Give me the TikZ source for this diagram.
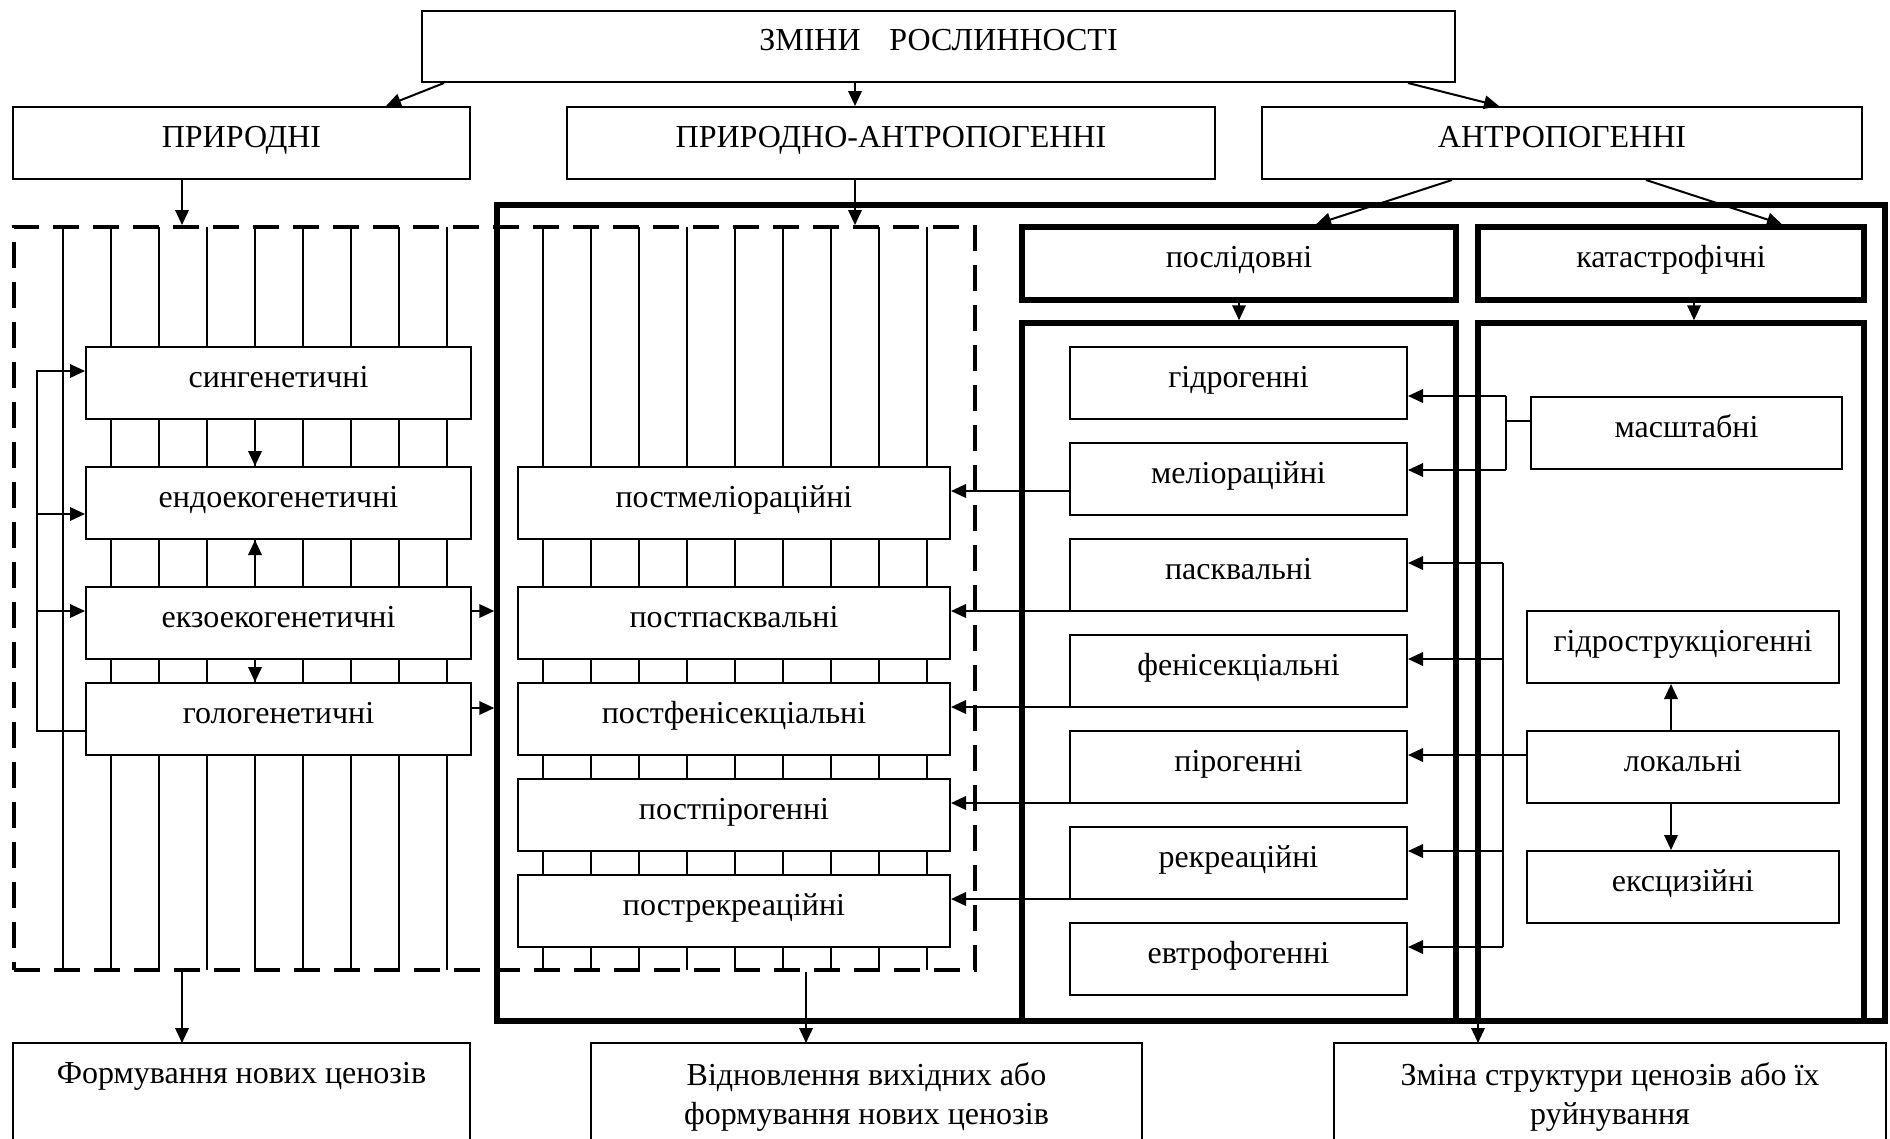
\documentclass[tikz,border=0pt]{standalone}
\usepackage{fontspec}
\setmainfont{Liberation Serif}
\usetikzlibrary{arrows.meta,calc}
\begin{document}
\begin{tikzpicture}[x=1pt,y=-1pt,
  every node/.style={font=\fontsize{32}{39}\selectfont},
  box/.style={draw, line width=2pt, fill=white, inner sep=0pt, text height=22pt, text depth=14pt, align=center},
  tbox/.style={box, line width=5.5pt},
  frame/.style={draw, line width=5.5pt, inner sep=0pt, line join=miter},
  lbox/.style={box, minimum width=385pt, minimum height=72pt},
  qbox/.style={box, minimum width=432pt, minimum height=72pt},
  rbox/.style={box, minimum width=337pt, minimum height=72pt},
  kbox/.style={box, minimum width=312pt, minimum height=72pt},
  openbox/.style={inner sep=0pt, outer sep=0pt, minimum height=100pt, anchor=north},
  txt/.style={inner sep=0pt, anchor=north, align=center},
  arr/.style={line width=2pt, -{Triangle[length=15pt,width=13.5pt]}},
  ln/.style={line width=2pt},
  stripe/.style={line width=1.6pt},
  dashframe/.style={draw, line width=4pt, dash pattern=on 26pt off 14pt, inner sep=0pt},
]
\useasboundingbox (0,0) rectangle (1890,1138);
\fill[white] (0,0) rectangle (1890,1138);

% stripes
\foreach \i in {0,...,8} {
  \draw[stripe] ({63+48*\i},227) -- ({63+48*\i},970);
  \draw[stripe] ({543+48*\i},227) -- ({543+48*\i},970);
}

% frames
\node[dashframe, minimum width=961pt, minimum height=743pt] (D) at (494.5,598.5) {};
\node[frame, minimum width=1388pt, minimum height=816pt] (B) at (1191,613) {};
\node[frame, minimum width=434pt, minimum height=698pt] (S2) at (1239,672) {};
\node[frame, minimum width=386pt, minimum height=698pt] (K2) at (1671,672) {};

% top boxes
\node[box, minimum width=1033pt, minimum height=71pt] (Z) at (938.5,46.5) {ЗМІНИ\hspace{0.9em}РОСЛИННОСТІ};
\node[box, minimum width=457pt, minimum height=72pt] (P) at (241.5,143) {ПРИРОДНІ};
\node[box, minimum width=648pt, minimum height=72pt] (PA) at (891,143) {ПРИРОДНО-АНТРОПОГЕННІ};
\node[box, minimum width=600pt, minimum height=72pt] (A) at (1562,143) {АНТРОПОГЕННІ};
\node[tbox, minimum width=434pt, minimum height=73pt] (S1) at (1239,263.5) {послідовні};
\node[tbox, minimum width=386pt, minimum height=73pt] (K1) at (1671,263.5) {катастрофічні};

% left boxes
\node[lbox] (L1) at (278.5,383) {сингенетичні};
\node[lbox] (L2) at (278.5,503) {ендоекогенетичні};
\node[lbox] (L3) at (278.5,623) {екзоекогенетичні};
\node[lbox] (L4) at (278.5,719) {гологенетичні};

% post boxes
\node[qbox] (Q1) at (734,503) {постмеліораційні};
\node[qbox] (Q2) at (734,623) {постпасквальні};
\node[qbox] (Q3) at (734,719) {постфенісекціальні};
\node[qbox] (Q4) at (734,815) {постпірогенні};
\node[qbox] (Q5) at (734,911) {пострекреаційні};

% successive boxes
\node[rbox] (R1) at (1238.5,383) {гідрогенні};
\node[rbox] (R2) at (1238.5,479) {меліораційні};
\node[rbox] (R3) at (1238.5,575) {пасквальні};
\node[rbox] (R4) at (1238.5,671) {фенісекціальні};
\node[rbox] (R5) at (1238.5,767) {пірогенні};
\node[rbox] (R6) at (1238.5,863) {рекреаційні};
\node[rbox] (R7) at (1238.5,959) {евтрофогенні};

% catastrophic boxes
\node[kbox, minimum width=311pt] (M) at (1686.5,433) {масштабні};
\node[kbox] (G) at (1683,647) {гідрострукціогенні};
\node[kbox] (Lo) at (1683,767) {локальні};
\node[kbox] (E) at (1683,887) {ексцизійні};

% bottom boxes
\node[openbox, minimum width=457pt] (F) at (241.5,1043) {};
\node[openbox, minimum width=551pt] (V) at (866.5,1043) {};
\node[openbox, minimum width=552pt] (Zm) at (1610,1043) {};
\foreach \b in {F,V,Zm} {
  \draw[ln] (\b.south west) -- (\b.north west) -- (\b.north east) -- (\b.south east);
}
\node[txt] (Ft) at ($(F.north)+(0,19)$) {Формування нових ценозів};
\node[txt] (Vt) at ($(V.north)+(0,19)$) {Відновлення вихідних або\\формування нових ценозів};
\node[txt] (Zt) at ($(Zm.north)+(0,19)$) {Зміна структури ценозів або їх\\руйнування};

% top connectors
\draw[arr] ([xshift=23pt]Z.south west) -- ([xshift=-85pt]P.north east);
\draw[arr] ([xshift=-83.5pt]Z.south) coordinate (z2) -- (z2 |- PA.north);
\draw[arr] ([xshift=-48pt]Z.south east) -- ([xshift=238pt]A.north west);
\draw[arr] ([xshift=-59.5pt]P.south) coordinate (p1) -- (p1 |- D.north);
\draw[arr] ([xshift=-36pt]PA.south) coordinate (p2) -- (p2 |- D.north);
\draw[arr] ([xshift=-110pt]A.south) -- ([xshift=77pt]S1.north);
\draw[arr] ([xshift=84pt]A.south) -- ([xshift=111pt]K1.north);
\draw[arr] (S1.south) -- (S2.north);
\draw[arr] ([xshift=23pt]K1.south) coordinate (k1) -- (k1 |- K2.north);

% left group
\draw[arr] ([yshift=-12pt]L4.west) -- ++(-48,0) |- ([yshift=12pt]L1.west);
\draw[arr] ([yshift=-11pt,xshift=-48pt]L2.west) -- ([yshift=-11pt]L2.west);
\draw[arr] ([yshift=12pt,xshift=-48pt]L3.west) -- ([yshift=12pt]L3.west);
\draw[arr] ([xshift=-23.5pt]L1.south) -- ([xshift=-23.5pt]L2.north);
\draw[arr] ([xshift=-23.5pt]L3.north) -- ([xshift=-23.5pt]L2.south);
\draw[arr] ([xshift=-23.5pt]L3.south) -- ([xshift=-23.5pt]L4.north);
\draw[arr] ([yshift=12pt]L3.east) coordinate (e3) -- (e3 -| B.west);
\draw[arr] ([yshift=11pt]L4.east) coordinate (e4) -- (e4 -| B.west);

% successive -> post
\draw[arr] ([yshift=-12pt]R2.west) coordinate (r2) -- (r2 -| Q1.east);
\draw[arr] ([yshift=1pt]R3.south west) coordinate (r3) -- (r3 -| Q2.east);
\draw[arr] ([yshift=1pt]R4.south west) coordinate (r4) -- (r4 -| Q3.east);
\draw[arr] ([yshift=1pt]R5.south west) coordinate (r5) -- (r5 -| Q4.east);
\draw[arr] ([yshift=1pt]R6.south west) coordinate (r6) -- (r6 -| Q5.east);

% масштабні
\draw[ln] ([yshift=12pt]M.west) -- ++(-24,0) coordinate (mj);
\draw[ln] (mj |- M.north) -- (mj |- M.south);
\draw[arr] (mj |- M.north) -- (R1.east |- M.north);
\draw[arr] (mj |- M.south) -- (R2.east |- M.south);

% локальні
\draw[arr] ([yshift=12pt]Lo.west) coordinate (lo) -- (lo -| R5.east);
\coordinate (cj) at ([xshift=-23pt]lo);
\coordinate (r3e) at ([yshift=12pt]R3.east);
\coordinate (r4e) at ([yshift=12pt]R4.east);
\coordinate (r6e) at ([yshift=12pt]R6.east);
\coordinate (r7e) at ([yshift=12pt]R7.east);
\draw[ln] (cj |- r3e) -- (cj |- r7e);
\draw[arr] (cj |- r3e) -- (r3e);
\draw[arr] (cj |- r4e) -- (r4e);
\draw[arr] (cj |- r6e) -- (r6e);
\draw[arr] (cj |- r7e) -- (r7e);
\draw[arr] ([xshift=-12pt]Lo.north) -- ([xshift=-12pt]G.south);
\draw[arr] ([xshift=-12pt]Lo.south) -- ([xshift=-12pt]E.north);

% bottom connectors
\draw[arr] (p1 |- D.south) -- (p1 |- F.north);
\draw[arr] ([xshift=311.5pt]D.south) coordinate (d2) -- (d2 |- V.north);
\draw[arr] ([xshift=287pt]B.south) coordinate (b2) -- (b2 |- Zm.north);
\end{tikzpicture}
\end{document}
